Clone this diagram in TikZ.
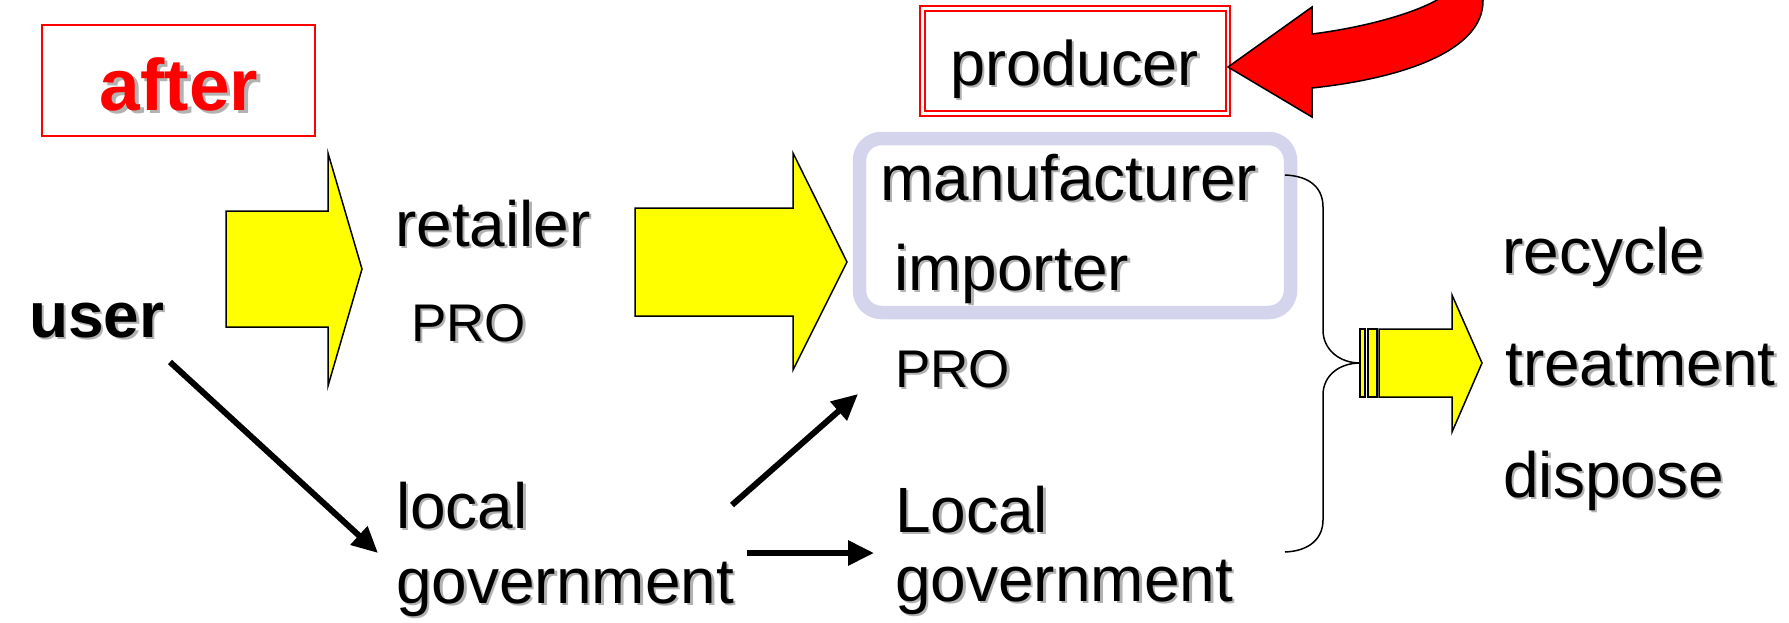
\documentclass[tikz,border=0pt]{standalone}
\usepackage{fontspec}
\setmainfont{Liberation Sans}
\usetikzlibrary{arrows.meta}
\definecolor{shadowgray}{RGB}{178,178,178}
\definecolor{lav}{RGB}{212,212,236}
\definecolor{yel}{RGB}{255,255,0}
\newcommand\shtx[3][2.5pt]{\leavevmode\rlap{\kern#1\raisebox{-#1}{\textcolor{shadowgray}{#3}}}\textcolor{#2}{#3}}
\tikzset{
  lbl/.style={inner sep=0pt, anchor=base west, font=\fontsize{64}{72}\selectfont},
  prolbl/.style={inner sep=0pt, anchor=base west, font=\fontsize{53}{60}\selectfont},
  yarrow/.style={fill=yel, draw=black, line width=1.5pt, line join=miter},
  conn/.style={line width=6pt, -{Triangle[length=26pt,width=24pt]}},
  redbox/.style={draw=red, line width=2pt},
}
\begin{document}
\begin{tikzpicture}[x=1pt,y=-1pt]
\useasboundingbox (0,0) rectangle (1789,622);
% after box
\draw[redbox] (42,25) rectangle (315,136);
\node[inner sep=0pt, anchor=base, font=\fontsize{73}{80}\selectfont\bfseries] (after) at (179,110) {\shtx[3.5pt]{red}{after}};
% producer box
\draw[redbox] (920,6) rectangle (1230,116);
\draw[redbox] (925,11) rectangle (1226,111);
\node[inner sep=0pt, anchor=base, font=\fontsize{63}{70}\selectfont] (producer) at (1074.5,85) {\shtx{black}{producer}};
% red curved arrow
\begin{scope}
\clip (0,0) rectangle (1789,622);
\draw[fill=red, line width=1.5pt, line join=miter] (1228,67) -- (1312,7) -- (1312,34)
  .. controls (1360,28) and (1410,15) .. (1437,0) -- (1445,-12) -- (1485,-12) -- (1483,0)
  .. controls (1484,50) and (1405,78) .. (1312,88) -- (1312,117) -- cycle;
\end{scope}
% lavender rounded box
\draw[lav, line width=13.5pt, rounded corners=22pt] (859.5,138.5) rectangle (1290.5,312.5);
% yellow block arrows
\draw[yarrow] (226,211) -- (328,211) -- (328,153) -- (362,269) -- (328,386) -- (328,327) -- (226,327) -- cycle;
\draw[yarrow] (635,208) -- (793,208) -- (793,153) -- (847,262) -- (793,370) -- (793,316) -- (635,316) -- cycle;
\draw[yarrow] (1360,329) rectangle (1365,397);
\draw[yarrow] (1368,329) rectangle (1377,397);
\draw[yarrow] (1379,329) -- (1452,329) -- (1452,295) -- (1482,363) -- (1452,432) -- (1452,397) -- (1379,397) -- cycle;
% brace
\draw[line width=1.5pt] (1285,175) .. controls (1310,176) and (1323,188) .. (1323,207) -- (1323,330)
  .. controls (1323,350) and (1340,363) .. (1360,363)
  .. controls (1340,363) and (1323,375) .. (1323,395) -- (1323,520)
  .. controls (1323,538) and (1310,551) .. (1285,552);
% texts
\node[lbl, font=\fontsize{64}{72}\selectfont\bfseries] (user) at (29,337) {\shtx{black}{user}};
\node[lbl] (retailer) at (395,246) {\shtx{black}{retailer}};
\node[prolbl] (pro1) at (411,341) {\shtx{black}{PRO}};
\node[lbl] (local1) at (396,528) {\shtx{black}{local}};
\node[lbl] (gov1) at (396,603) {\shtx{black}{government}};
\node[lbl] (manuf) at (880,200) {\shtx{black}{manufacturer}};
\node[lbl] (importer) at (894,290) {\shtx{black}{importer}};
\node[prolbl] (pro2) at (895,387) {\shtx{black}{PRO}};
\node[lbl] (local2) at (895,532) {\shtx{black}{Local}};
\node[lbl] (gov2) at (895,601) {\shtx{black}{government}};
\node[lbl] (recycle) at (1502,273) {\shtx{black}{recycle}};
\node[lbl] (treatment) at (1505,385) {\shtx{black}{treatment}};
\node[lbl] (dispose) at (1503,497) {\shtx{black}{dispose}};
% connectors
\coordinate (userout) at (170,362);
\coordinate (lgin) at (378,553);
\coordinate (lgout1) at (732,505);
\coordinate (proin) at (858,394);
\coordinate (lgout2) at (747,553);
\coordinate (lg2in) at (874,553);
\draw[conn] (userout) -- (lgin);
\draw[conn] (lgout1) -- (proin);
\draw[conn] (lgout2) -- (lg2in);
\end{tikzpicture}
\end{document}
